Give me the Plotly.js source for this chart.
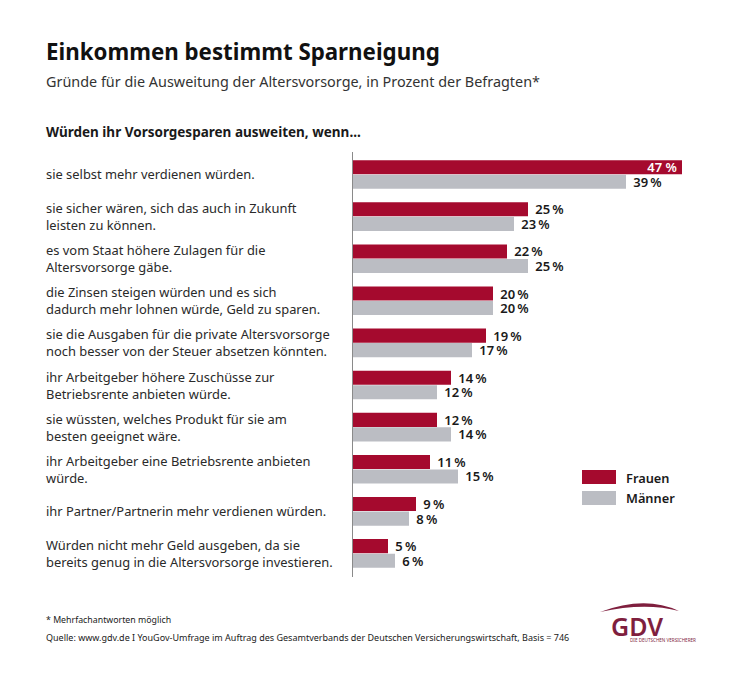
<!DOCTYPE html>
<html>
<head>
<meta charset="utf-8">
<script src="https://cdn.plot.ly/plotly-3.0.1.min.js"></script>
<style>html,body{margin:0;padding:0;background:#fff}</style>
</head>
<body>
<div id="chart" style="width:750px;height:684px"></div>
<script>
const categories = [
  "sie selbst mehr verdienen würden.",
  "sie sicher wären, sich das auch in Zukunft<br>leisten zu können.",
  "es vom Staat höhere Zulagen für die<br>Altersvorsorge gäbe.",
  "die Zinsen steigen würden und es sich<br>dadurch mehr lohnen würde, Geld zu sparen.",
  "sie die Ausgaben für die private Altersvorsorge<br>noch besser von der Steuer absetzen könnten.",
  "ihr Arbeitgeber höhere Zuschüsse zur<br>Betriebsrente anbieten würde.",
  "sie wüssten, welches Produkt für sie am<br>besten geeignet wäre.",
  "ihr Arbeitgeber eine Betriebsrente anbieten<br>würde.",
  "ihr Partner/Partnerin mehr verdienen würden.",
  "Würden nicht mehr Geld ausgeben, da sie<br>bereits genug in die Altersvorsorge investieren."
];
const frauen = [47, 25, 22, 20, 19, 14, 12, 11, 9, 5];
const maenner = [39, 23, 25, 20, 17, 12, 14, 15, 8, 6];
const seriesNames = ["Frauen", "Männer"];
const RED = "#a50a2e", GREY = "#bbbdc3", INK = "#1a1a1a", LOGO = "#7f1f3e";
const FONT = "Noto Sans";

const W = 750, H = 684, L = 353, R = 47, T = 152, B = 107;
const pw = W - L - R, ph = H - T - B;
const px = x => (x - L) / pw;
const py = y => 1 - (y - T) / ph;
const idx = categories.map((_, i) => i);
const outLabel = v => "\u2009\u2009" + v + "\u2009%";

const traces = [
  {
    type: "bar", orientation: "h", name: seriesNames[0], y: idx, x: frauen,
    marker: {color: RED}, cliponaxis: false, constraintext: "none",
    text: frauen.map(v => v >= 40 ? v + " %\u2009" : outLabel(v)),
    textposition: frauen.map(v => v >= 40 ? "inside" : "outside"),
    insidetextanchor: "end",
    textangle: 0,
    textfont: {family: FONT, size: 13, weight: 600, color: frauen.map(v => v >= 40 ? "#ffffff" : INK)},
    hoverinfo: "x+name"
  },
  {
    type: "bar", orientation: "h", name: seriesNames[1], y: idx, x: maenner,
    marker: {color: GREY}, cliponaxis: false, constraintext: "none",
    text: maenner.map(outLabel),
    textposition: "outside",
    textangle: 0,
    textfont: {family: FONT, size: 13, weight: 600, color: INK},
    hoverinfo: "x+name"
  }
];

const note = (text, x, y, size, extra) => Object.assign({
  text, xref: "paper", yref: "paper", x: px(x), y: py(y),
  xanchor: "left", yanchor: "middle", align: "left", showarrow: false,
  font: {family: FONT, size, color: INK}
}, extra || {});

const annotations = [
  note("Gründe für die Ausweitung der Altersvorsorge, in Prozent der Befragten*", 44, 82, 14.4, {font: {family: FONT, size: 14.4, color: "#333"}}),
  note("Würden ihr Vorsorgesparen ausweiten, wenn...", 44, 132, 13.5, {font: {family: FONT, size: 13.5, weight: 700, color: INK}}),
  note(seriesNames[0], 624, 478, 12.8, {font: {family: FONT, size: 12.8, weight: 600, color: INK}}),
  note(seriesNames[1], 624, 498, 12.8, {font: {family: FONT, size: 12.8, weight: 600, color: INK}}),
  note("* Mehrfachantworten möglich", 44, 620, 8.8),
  note("Quelle: www.gdv.de I YouGov-Umfrage im Auftrag des Gesamtverbands der Deutschen Versicherungswirtschaft, Basis = 746", 44, 637, 9),
  note("GDV", 609, 626, 25, {font: {family: FONT, size: 25, weight: 600, color: LOGO}}),
  note("DIE DEUTSCHEN VERSICHERER", 628, 640, 4.6, {font: {family: FONT, size: 4.6, color: LOGO}})
].concat(categories.map((c, i) => ({
  text: c, xref: "paper", yref: "y", x: px(44), y: i,
  xanchor: "left", yanchor: "middle", align: "left", showarrow: false,
  font: {family: FONT, size: 12.9, color: "#2a2a2a"}
})));

const rect = (x0, y0, x1, y1, color) => ({
  type: "rect", xref: "paper", yref: "paper",
  x0: px(x0), x1: px(x1), y0: py(y0), y1: py(y1),
  fillcolor: color, line: {width: 0}
});
const pt = (x, y) => px(x) + "," + py(y);

const shapes = [
  rect(582, 470, 616, 484, RED),
  rect(582, 491, 616, 505, GREY),
  {
    type: "path", xref: "paper", yref: "paper", fillcolor: LOGO, line: {width: 0},
    path: "M" + pt(600, 612) + " Q" + pt(645, 595) + " " + pt(679, 611) +
          " Q" + pt(645, 602) + " " + pt(600, 612) + " Z"
  }
];

const layout = {
  width: W, height: H,
  margin: {l: L, r: R, t: T, b: B, pad: 0},
  paper_bgcolor: "#ffffff", plot_bgcolor: "#ffffff",
  font: {family: FONT, color: INK},
  title: {
    text: "<b>Einkommen bestimmt Sparneigung</b>",
    xref: "container", yref: "container", x: 46 / W, xanchor: "left",
    y: 1 - 52 / H, yanchor: "middle",
    font: {family: FONT, size: 22.3, color: "#111"}
  },
  barmode: "group", bargap: 0.31, bargroupgap: 0.03,
  xaxis: {range: [0, 50], visible: false, fixedrange: true},
  yaxis: {
    range: [9.56, -0.534], showgrid: false, zeroline: false,
    showticklabels: false, ticks: "", showline: true,
    linecolor: "#8a8a8a", linewidth: 1.5, fixedrange: true
  },
  showlegend: false,
  annotations, shapes
};
Plotly.newPlot("chart", traces, layout, {displayModeBar: false, staticPlot: true});
</script>
</body>
</html>
